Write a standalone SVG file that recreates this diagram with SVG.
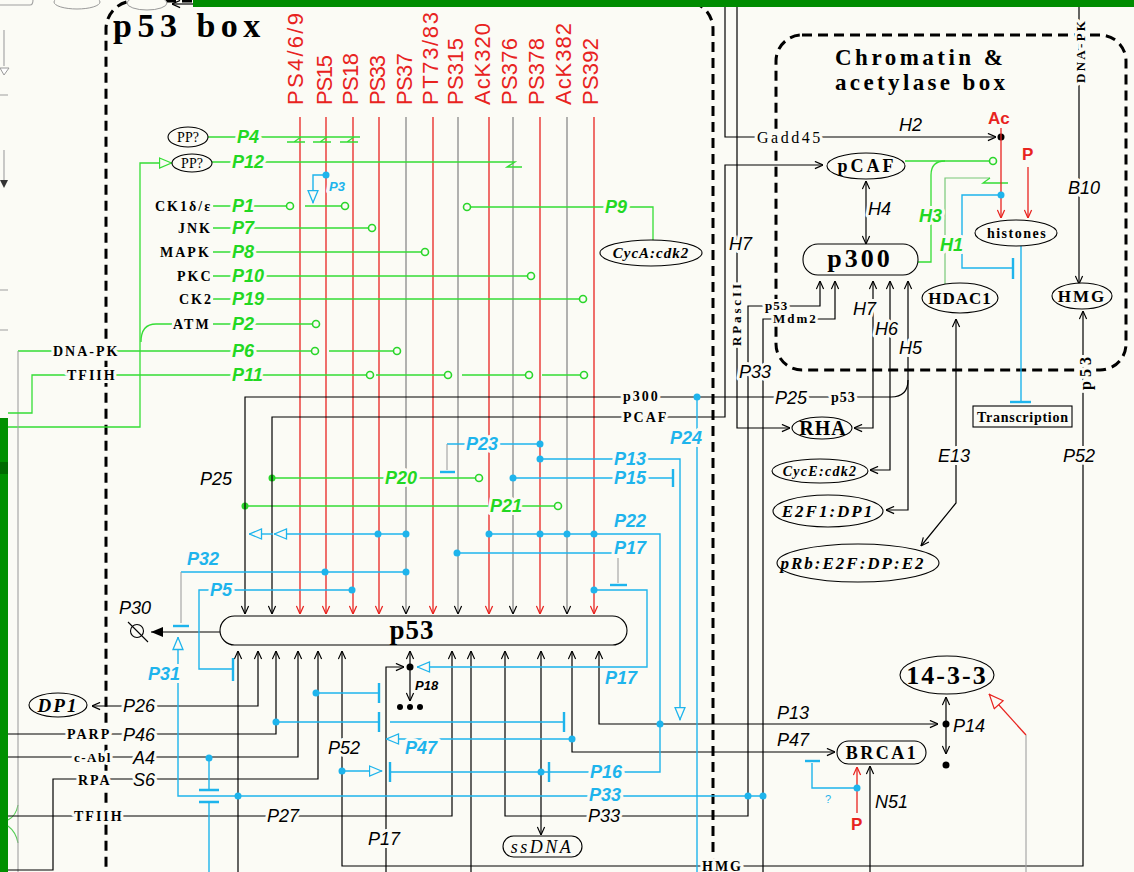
<svg xmlns="http://www.w3.org/2000/svg" width="1134" height="872" viewBox="0 0 1134 872">
<style>
.k{fill:none;stroke:#000;stroke-width:1.2}
.gy{fill:none;stroke:#808080;stroke-width:1.2}
.lg{fill:none;stroke:#a0a0a0;stroke-width:1.1}
.r{fill:none;stroke:#e8231f;stroke-width:1.3}
.g{fill:none;stroke:#35dd35;stroke-width:1.3}
.g2{fill:none;stroke:#78c878;stroke-width:1.2}
.c{fill:none;stroke:#1eb4ec;stroke-width:1.4}
.cb{fill:none;stroke:#1eb4ec;stroke-width:2.4}
.dc{fill:#1eb4ec}
.dk{fill:#000}
.dg{fill:#2ad62a}
.oc{fill:#fbfbf5;stroke:#2ad62a;stroke-width:1.6}
.nd{fill:#fbfbf5;stroke:#000;stroke-width:1.1}
.box{fill:none;stroke:#000;stroke-width:3;stroke-dasharray:10 6}
.res{font-family:"Liberation Sans",Arial,sans-serif;font-size:22px;fill:#e8231f}
.gl{font-family:"Liberation Sans",Arial,sans-serif;font-size:18px;font-weight:bold;font-style:italic;fill:#22d822}
.cl{font-family:"Liberation Sans",Arial,sans-serif;font-size:18px;font-weight:bold;font-style:italic;fill:#1eb4ec}
.kl{font-family:"Liberation Sans",Arial,sans-serif;font-size:18px;font-style:italic;fill:#000}
.sl{font-family:"Liberation Serif","Times New Roman",serif;font-size:14px;font-weight:bold;letter-spacing:2px;fill:#000}
.nt{font-family:"Liberation Serif","Times New Roman",serif;fill:#000;text-anchor:middle}
.h{stroke:#fbfbf5;stroke-width:6px;paint-order:stroke;stroke-linejoin:round}
</style>
<defs>
<marker id="ak" viewBox="0 0 10 10" refX="10" refY="5" markerWidth="9" markerHeight="9" markerUnits="userSpaceOnUse" orient="auto-start-reverse"><path d="M1,1L10,5L1,9" fill="none" stroke="#000" stroke-width="1.3"/></marker>
<marker id="ar" viewBox="0 0 10 10" refX="10" refY="5" markerWidth="9" markerHeight="9" markerUnits="userSpaceOnUse" orient="auto-start-reverse"><path d="M1,1L10,5L1,9" fill="none" stroke="#e8231f" stroke-width="1.4"/></marker>
<marker id="kf" viewBox="0 0 12 10" refX="12" refY="5" markerWidth="12" markerHeight="10" markerUnits="userSpaceOnUse" orient="auto"><path d="M0,0L12,5L0,10Z" fill="#000"/></marker>
<marker id="ct" viewBox="0 0 14 12" refX="13.5" refY="6" markerWidth="14" markerHeight="12" markerUnits="userSpaceOnUse" orient="auto"><path d="M1,1L13,6L1,11Z" fill="#fbfbf5" stroke="#1eb4ec" stroke-width="1.3"/></marker>
<marker id="gt" viewBox="0 0 14 12" refX="13.5" refY="6" markerWidth="14" markerHeight="12" markerUnits="userSpaceOnUse" orient="auto"><path d="M1,1L13,6L1,11Z" fill="#fbfbf5" stroke="#35dd35" stroke-width="1.3"/></marker>
<marker id="rt" viewBox="0 0 16 14" refX="15.5" refY="7" markerWidth="16" markerHeight="14" markerUnits="userSpaceOnUse" orient="auto"><path d="M1,1L15,7L1,13Z" fill="#fbfbf5" stroke="#e8231f" stroke-width="1.2"/></marker>
</defs>

<rect width="1134" height="872" fill="#fbfbf5"/>

<g id="frame">
<rect class="box" x="106" y="1" width="607" height="922" rx="28"/>
<rect class="box" x="776" y="35" width="350" height="335" rx="26"/>
<rect x="193" y="0" width="941" height="7" fill="#008c00"/>
<rect x="0" y="418" width="8" height="454" fill="#009000"/>
<rect x="0" y="462" width="8" height="12" fill="#006a00"/>
<path class="lg" d="M0,5H30Q33,5 33,0M4,30V66"/>
<path d="M0,68H9L4,75Z" fill="#fff" stroke="#999"/>
<path class="lg" d="M4,150V180M0,95H8M0,290H8M0,330H8"/>
<path d="M0,180H8L4,188Z" fill="#333"/>
<ellipse cx="77" cy="2" rx="23" ry="7" fill="#fbfbf5" stroke="#999"/>
<ellipse cx="147" cy="3" rx="20" ry="7" fill="#fbfbf5" stroke="#999"/>
<path class="k" d="M193,4H172" marker-end="url(#ak)"/>
<path fill="none" stroke="#5c5" stroke-width="1.1" d="M8,820Q16,816 18,805M8,826Q16,832 18,843"/>
<text x="113" y="37" font-family="Liberation Serif,'Times New Roman',serif" font-weight="bold" font-size="34" letter-spacing="5.5">p53 box</text>
<text x="835" y="65" font-family="Liberation Serif,'Times New Roman',serif" font-weight="bold" font-size="23" textLength="168" lengthAdjust="spacing">Chromatin &amp;</text>
<text x="835" y="90" font-family="Liberation Serif,'Times New Roman',serif" font-weight="bold" font-size="23" textLength="170" lengthAdjust="spacing">acetylase box</text>
</g>

<g id="residues" class="res">
<text transform="translate(303,105) rotate(-90)" textLength="92" lengthAdjust="spacing">PS4/6/9</text>
<text transform="translate(332,105) rotate(-90)" textLength="50" lengthAdjust="spacing">PS15</text>
<text transform="translate(358,105) rotate(-90)" textLength="52" lengthAdjust="spacing">PS18</text>
<text transform="translate(385,105) rotate(-90)" textLength="50" lengthAdjust="spacing">PS33</text>
<text transform="translate(412,105) rotate(-90)" textLength="52" lengthAdjust="spacing">PS37</text>
<text transform="translate(438,105) rotate(-90)" textLength="93" lengthAdjust="spacing">PT73/83</text>
<text transform="translate(463,105) rotate(-90)" textLength="67" lengthAdjust="spacing">PS315</text>
<text transform="translate(490,105) rotate(-90)" textLength="82" lengthAdjust="spacing">AcK320</text>
<text transform="translate(517,105) rotate(-90)" textLength="67" lengthAdjust="spacing">PS376</text>
<text transform="translate(544,105) rotate(-90)" textLength="67" lengthAdjust="spacing">PS378</text>
<text transform="translate(571,105) rotate(-90)" textLength="82" lengthAdjust="spacing">AcK382</text>
<text transform="translate(598,105) rotate(-90)" textLength="67" lengthAdjust="spacing">PS392</text>
</g>

<g id="connectors">
<g marker-end="url(#ar)" class="r">
<path d="M300,117V614"/><path d="M326,117V614"/><path d="M353,117V614"/><path d="M379,117V614"/>
<path d="M433,117V614"/><path d="M489,117V614"/><path d="M540,117V614"/><path d="M594,117V614"/>
</g>
<g marker-end="url(#ak)" class="gy">
<path d="M406,117V614"/><path d="M458,117V614"/><path d="M513,117V614"/><path d="M567,117V614"/>
</g>

<path class="g" d="M208,137H360"/>
<path class="g" d="M287,142H305M301,137L294,142M313,142H331M327,137L320,142M340,142H358M354,137L347,142"/>
<path class="g" d="M212,162H515L507,167H522"/>
<path class="g" d="M8,427H140V163H172" marker-end="url(#gt)"/>
<path class="g" d="M141,342C141,330 146,324 156,324H172"/>
<path class="g" d="M213,206H286M305,206H341"/>
<path class="g" d="M213,228H368"/>
<path class="g" d="M213,252H421"/>
<path class="g" d="M213,276H527"/>
<path class="g" d="M213,299H579"/>
<path class="g" d="M213,324H312"/>
<path class="g" d="M18,351H311M329,351H393"/>
<path class="lg" d="M18,351V872"/>
<path class="g" d="M8,413H32V375H366M376,375H444M462,375H525M542,375H580"/>
<path class="g" d="M471,207H653V240"/>
<path class="g" d="M272,478H475"/>
<path class="g" d="M245,506H554"/>
<path class="g" d="M905,161H989"/>
<path class="g" d="M918,262H931V175Q931,161 945,161"/>
<path class="g2" d="M945,284V178H990"/>
<path class="g" d="M990,178L983,183H1008"/>
<circle class="oc" cx="290" cy="206" r="3.5"/><circle class="oc" cx="345" cy="206" r="3.5"/>
<circle class="oc" cx="372" cy="228" r="3.5"/><circle class="oc" cx="425" cy="252" r="3.5"/>
<circle class="oc" cx="531" cy="276" r="3.5"/><circle class="oc" cx="583" cy="299" r="3.5"/>
<circle class="oc" cx="316" cy="324" r="3.5"/><circle class="oc" cx="315" cy="351" r="3.5"/>
<circle class="oc" cx="397" cy="351" r="3.5"/><circle class="oc" cx="370" cy="375" r="3.5"/>
<circle class="oc" cx="448" cy="375" r="3.5"/><circle class="oc" cx="529" cy="375" r="3.5"/>
<circle class="oc" cx="584" cy="375" r="3.5"/><circle class="oc" cx="467" cy="207" r="3.5"/>
<circle class="oc" cx="479" cy="478" r="3.5"/><circle class="oc" cx="558" cy="506" r="3.5"/>
<circle class="oc" cx="993" cy="161" r="3.5"/>
<circle class="dg" cx="272" cy="478" r="3.5"/><circle class="dg" cx="245" cy="506" r="3.5"/>

<path class="k" d="M908,380Q908,397 891,397H245V614" marker-end="url(#ak)"/>
<path class="k" d="M823,165H725V417H272V614" marker-start="url(#ak)" marker-end="url(#ak)"/>
<path class="k" d="M725,7V137H996" marker-end="url(#ak)"/>
<circle class="dk" cx="1001" cy="137" r="3.5"/>
<path class="k" d="M737,7V428H790" marker-end="url(#ak)"/>
<path class="k" d="M873,281V428H854" marker-start="url(#ak)" marker-end="url(#ak)"/>
<path class="k" d="M890,281V470H870" marker-start="url(#ak)" marker-end="url(#ak)"/>
<path class="k" d="M908,281V510H886" marker-start="url(#ak)" marker-end="url(#ak)"/>
<path class="k" d="M866,181V244" marker-start="url(#ak)" marker-end="url(#ak)"/>
<path class="k" d="M820,281V306H748V816H505V651" marker-start="url(#ak)" marker-end="url(#ak)"/>
<path class="k" d="M835,281V319H763V872" marker-start="url(#ak)"/>
<path class="k" d="M1083,311V866H342V651" marker-start="url(#ak)" marker-end="url(#ak)"/>
<path class="k" d="M1079,7V284" marker-end="url(#ak)"/>
<path class="k" d="M956,319V503L921,546" marker-start="url(#ak)" marker-end="url(#ak)"/>
<path class="k" d="M572,651V752H835" marker-start="url(#ak)" marker-end="url(#ak)"/>
<path class="k" d="M599,651V724H938" marker-start="url(#ak)" marker-end="url(#ak)"/>
<path class="k" d="M946,724V697" marker-end="url(#ak)"/>
<path class="k" d="M946,724V754" marker-end="url(#ak)"/>
<circle class="dk" cx="946" cy="724" r="3.5"/><circle class="dk" cx="946" cy="765" r="3.5"/>
<path class="k" d="M870,872V766" marker-end="url(#ak)"/>
<path class="k" d="M541,651V835" marker-start="url(#ak)" marker-end="url(#ak)"/>
<path class="k" d="M386,872V667H404" marker-end="url(#ak)"/>
<path class="k" d="M410,667V651" marker-end="url(#ak)"/>
<path class="k" d="M410,667V701" marker-end="url(#ak)"/>
<circle class="dk" cx="410" cy="667" r="3.5"/>
<circle class="dk" cx="400" cy="707" r="3"/><circle class="dk" cx="410" cy="707" r="3"/><circle class="dk" cx="420" cy="707" r="3"/>
<path class="k" d="M258,651V706H92" marker-start="url(#ak)" marker-end="url(#ak)"/>
<path class="k" d="M276,651V734H8" marker-start="url(#ak)"/>
<path class="k" d="M298,651V757H8" marker-start="url(#ak)"/>
<path class="k" d="M318,651V779H53V870H8" marker-start="url(#ak)"/>
<path class="k" d="M8,816H452V651" marker-end="url(#ak)"/>
<path class="k" d="M238,872V651" marker-end="url(#ak)"/>
<path class="k" d="M471,872V651" marker-end="url(#ak)"/>
<path class="k" d="M220,632H151" marker-end="url(#kf)"/>

<path class="r" d="M1001,128V218" marker-end="url(#ar)"/>
<path class="r" d="M1028,167V218" marker-end="url(#ar)"/>
<path class="r" d="M857,813V767" marker-end="url(#ar)"/>
<path class="r" d="M1026,735L989,694" marker-end="url(#rt)"/>
<path class="lg" d="M1026,735V872"/>

<path class="c" d="M326,175H313V203" marker-end="url(#ct)"/>
<path class="c" d="M540,444H447"/><path class="lg" d="M447,444V470"/><path class="cb" d="M440,472H455"/>
<path class="c" d="M540,459H680V720" marker-end="url(#ct)"/>
<path class="c" d="M513,478H672"/><path class="cb" d="M673,469V487"/>
<path class="c" d="M489,534H660V772H390"/><path class="cb" d="M390,762V782M549,762V782"/>
<path class="c" d="M406,534H274" marker-end="url(#ct)"/>
<path class="c" d="M273,534H249" marker-end="url(#ct)"/>
<path class="c" d="M457,553H612"/><path class="lg" d="M618,558V583"/><path class="cb" d="M610,585H627"/>
<path class="c" d="M406,572H181"/><path class="lg" d="M181,572V623"/><path class="cb" d="M173,626H189"/>
<path class="c" d="M352,590H199V669H232"/><path class="cb" d="M233,658V681"/>
<path class="c" d="M763,796H178V637" marker-end="url(#ct)"/>
<path class="c" d="M594,590H647V667H417" marker-end="url(#ct)"/>
<path class="c" d="M316,693H378"/><path class="cb" d="M379,683V703"/>
<path class="c" d="M276,722H378M390,722H563"/><path class="cb" d="M379,712V732M564,712V732"/>
<path class="c" d="M572,739H386" marker-end="url(#ct)"/>
<path class="c" d="M342,771H382" marker-end="url(#ct)"/>
<path class="c" d="M209,758V790M209,802V872"/><path class="cb" d="M199,790H219M199,802H219"/>
<path class="c" d="M697,397V872"/>
<path class="c" d="M857,788H812V763"/><path class="cb" d="M805,761H820"/>
<path class="c" d="M1001,195H962V268H1012"/><path class="cb" d="M1013,258V279"/>
<path class="c" d="M1021,246V401"/><path class="cb" d="M1010,402H1031"/>
<g class="dc">
<circle cx="326" cy="175" r="3.5"/><circle cx="540" cy="444" r="3.5"/><circle cx="540" cy="459" r="3.5"/>
<circle cx="513" cy="478" r="3.5"/><circle cx="489" cy="534" r="3.5"/><circle cx="540" cy="534" r="3.5"/>
<circle cx="567" cy="534" r="3.5"/><circle cx="594" cy="534" r="3.5"/><circle cx="378" cy="534" r="3.5"/>
<circle cx="406" cy="534" r="3.5"/><circle cx="457" cy="553" r="3.5"/><circle cx="325" cy="572" r="3.5"/>
<circle cx="406" cy="572" r="3.5"/><circle cx="352" cy="590" r="3.5"/><circle cx="594" cy="590" r="3.5"/>
<circle cx="316" cy="693" r="3.5"/><circle cx="276" cy="722" r="3.5"/><circle cx="572" cy="739" r="3.5"/>
<circle cx="209" cy="758" r="3.5"/><circle cx="342" cy="771" r="3.5"/><circle cx="541" cy="772" r="3.5"/>
<circle cx="660" cy="724" r="3.5"/><circle cx="238" cy="796" r="3.5"/><circle cx="748" cy="796" r="3.5"/>
<circle cx="763" cy="796" r="3.5"/><circle cx="697" cy="397" r="3.5"/><circle cx="857" cy="788" r="3.5"/>
<circle cx="1001" cy="195" r="3.5"/>
</g>

<g class="gl h">
<text x="237" y="143">P4</text><text x="232" y="168">P12</text><text x="232" y="212">P1</text>
<text x="232" y="234">P7</text><text x="232" y="258">P8</text><text x="232" y="282">P10</text>
<text x="232" y="305">P19</text><text x="232" y="330">P2</text><text x="232" y="357">P6</text>
<text x="232" y="381">P11</text><text x="605" y="213">P9</text><text x="385" y="484">P20</text>
<text x="490" y="512">P21</text><text x="919" y="222">H3</text><text x="940" y="251">H1</text>
</g>
<g class="cl h">
<text x="329" y="191" font-size="13">P3</text>
<text x="466" y="450">P23</text><text x="614" y="465">P13</text><text x="614" y="484">P15</text>
<text x="614" y="527">P22</text><text x="614" y="554">P17</text><text x="187" y="565">P32</text>
<text x="210" y="596">P5</text><text x="148" y="680">P31</text><text x="605" y="684">P17</text>
<text x="405" y="754">P47</text><text x="590" y="778">P16</text><text x="589" y="801">P33</text>
<text x="670" y="444">P24</text>
<text x="825" y="803" font-size="11" font-weight="normal" font-style="normal">?</text>
</g>
<g class="kl h">
<text x="200" y="485">P25</text><text x="775" y="404">P25</text><text x="119" y="614">P30</text>
<text x="123" y="712">P26</text><text x="123" y="741">P46</text><text x="133" y="764">A4</text>
<text x="133" y="786">S6</text><text x="267" y="822">P27</text><text x="328" y="754">P52</text>
<text x="368" y="845">P17</text><text x="588" y="822">P33</text><text x="777" y="719">P13</text>
<text x="777" y="746">P47</text><text x="953" y="732">P14</text><text x="875" y="808">N51</text>
<text x="1063" y="462">P52</text><text x="938" y="462">E13</text><text x="1068" y="194">B10</text>
<text x="899" y="131">H2</text><text x="868" y="215">H4</text><text x="853" y="315">H7</text>
<text x="875" y="335">H6</text><text x="899" y="354">H5</text><text x="729" y="250">H7</text>
<text x="739" y="378">P33</text>
<text x="415" y="690" font-size="13" font-weight="bold">P18</text>
</g>
<g class="sl h">
<text x="623" y="401">p300</text><text x="623" y="422">PCAF</text>
<text x="757" y="143" font-size="16" font-weight="normal" letter-spacing="2.5">Gadd45</text>
<text x="765" y="310" font-size="13" letter-spacing="1">p53</text>
<text x="773" y="323" font-size="13" letter-spacing="2">Mdm2</text>
<text x="831" y="402" letter-spacing="1">p53</text>
<text x="67" y="739">PARP</text>
<text x="74" y="762" font-size="13" letter-spacing="1.5">c-Abl</text>
<text x="78" y="785">RPA</text>
<text x="74" y="821">TFIIH</text>
<text x="702" y="871">HMG</text>
<text transform="translate(741,346) rotate(-90)" font-size="13" letter-spacing="0" textLength="62" lengthAdjust="spacing">RPascII</text>
<text transform="translate(1085,83) rotate(-90)" font-size="13" letter-spacing="0" textLength="62" lengthAdjust="spacing">DNA-PK</text>
<text transform="translate(1091,390) rotate(-90)" font-size="16" letter-spacing="0" textLength="33" lengthAdjust="spacing">p53</text>
</g>
<g font-family="Liberation Sans,Arial,sans-serif" font-weight="bold" fill="#e8231f" font-size="17">
<text x="988" y="124">Ac</text><text x="1022" y="160">P</text><text x="851" y="830">P</text>
</g>
</g>

<g id="n-ppA"><ellipse class="nd" cx="188" cy="137" rx="20" ry="10"/><text class="nt" x="188" y="142" font-size="14">PP?</text></g>
<g id="n-ppB"><ellipse class="nd" cx="192" cy="163" rx="20" ry="9"/><text class="nt" x="192" y="168" font-size="14">PP?</text></g>
<g id="n-ck1"><text class="sl h" x="155" y="211">CK1δ/ε</text></g>
<g id="n-jnk"><text class="sl h" x="178" y="233">JNK</text></g>
<g id="n-mapk"><text class="sl h" x="160" y="257">MAPK</text></g>
<g id="n-pkc"><text class="sl h" x="177" y="281">PKC</text></g>
<g id="n-ck2"><text class="sl h" x="179" y="304">CK2</text></g>
<g id="n-atm"><text class="sl h" x="173" y="329">ATM</text></g>
<g id="n-dnapk"><text class="sl h" x="53" y="356">DNA-PK</text></g>
<g id="n-tfiih"><text class="sl h" x="67" y="380">TFIIH</text></g>
<g id="n-cyca"><ellipse class="nd" cx="651" cy="253" rx="51" ry="13"/><text class="nt" x="651" y="258" font-size="15" font-style="italic" font-weight="bold" letter-spacing="1">CycA:cdk2</text></g>
<g id="n-p53"><rect class="nd" x="220" y="616" width="407" height="29" rx="14.5"/><text class="nt" x="412" y="639" font-size="27" font-weight="bold" letter-spacing="1">p53</text></g>
<g id="n-sink"><circle cx="137" cy="631" r="6.5" fill="none" stroke="#000" stroke-width="1.1"/><path d="M128,622L148,642" stroke="#000" stroke-width="1.1"/></g>
<g id="n-dp1"><ellipse class="nd" cx="58" cy="705" rx="29" ry="12"/><text class="nt" x="58" y="712" font-size="19" font-style="italic" font-weight="bold" letter-spacing="2">DP1</text></g>
<g id="n-ssdna"><rect class="nd" x="503" y="836" width="79" height="21" rx="10.5"/><text class="nt" x="542" y="853" font-size="18" font-style="italic" letter-spacing="2.5">ssDNA</text></g>
<g id="n-brca1"><rect class="nd" x="837" y="741" width="89" height="23" rx="11.5"/><text class="nt" x="882" y="759" font-size="18" font-weight="bold" letter-spacing="2.5">BRCA1</text></g>
<g id="n-1433"><ellipse class="nd" cx="947" cy="675" rx="47" ry="19"/><text class="nt" x="947" y="684" font-size="26" font-weight="bold" letter-spacing="2">14-3-3</text></g>
<g id="n-pcaf"><ellipse class="nd" cx="866" cy="166" rx="39" ry="13"/><text class="nt" x="867" y="172" font-size="18" font-weight="bold" letter-spacing="3">pCAF</text></g>
<g id="n-p300"><rect class="nd" x="803" y="244" width="115" height="31" rx="15"/><text class="nt" x="860" y="267" font-size="26" font-weight="bold" letter-spacing="3">p300</text></g>
<g id="n-histones"><ellipse class="nd" cx="1016" cy="233" rx="41" ry="13"/><text class="nt" x="1017" y="238" font-size="14" font-weight="bold" letter-spacing="1.5">histones</text></g>
<g id="n-hdac1"><ellipse class="nd" cx="960" cy="298" rx="38" ry="15"/><text class="nt" x="960" y="304" font-family="Liberation Sans,Arial,sans-serif" font-size="17" font-weight="bold" letter-spacing="1">HDAC1</text></g>
<g id="n-hmg"><ellipse class="nd" cx="1082" cy="296" rx="30" ry="13"/><text class="nt" x="1082" y="302" font-family="Liberation Sans,Arial,sans-serif" font-size="17" font-weight="bold" letter-spacing="2">HMG</text></g>
<g id="n-rha"><ellipse class="nd" cx="822" cy="428" rx="30" ry="11"/><text class="nt" x="823" y="435" font-size="20" font-weight="bold" letter-spacing="1">RHA</text></g>
<g id="n-cyce"><ellipse class="nd" cx="820" cy="471" rx="48" ry="12"/><text class="nt" x="820" y="476" font-size="14" font-style="italic" font-weight="bold" letter-spacing="1.3">CycE:cdk2</text></g>
<g id="n-e2f1"><ellipse class="nd" cx="828" cy="511" rx="55" ry="16"/><text class="nt" x="828" y="517" font-size="17" font-style="italic" font-weight="bold" letter-spacing="2">E2F1:DP1</text></g>
<g id="n-prb"><ellipse class="nd" cx="858" cy="563" rx="81" ry="19"/><text class="nt" x="853" y="569" font-size="17" font-style="italic" font-weight="bold" letter-spacing="2">pRb:E2F:DP:E2</text></g>
<g id="n-transcription"><rect x="973" y="406" width="99" height="21" fill="#fbfbf5" stroke="#000" stroke-width="1.1"/><text x="977" y="422" font-family="Liberation Serif,'Times New Roman',serif" font-size="14" font-weight="bold" textLength="91" lengthAdjust="spacing">Transcription</text></g>
</svg>
